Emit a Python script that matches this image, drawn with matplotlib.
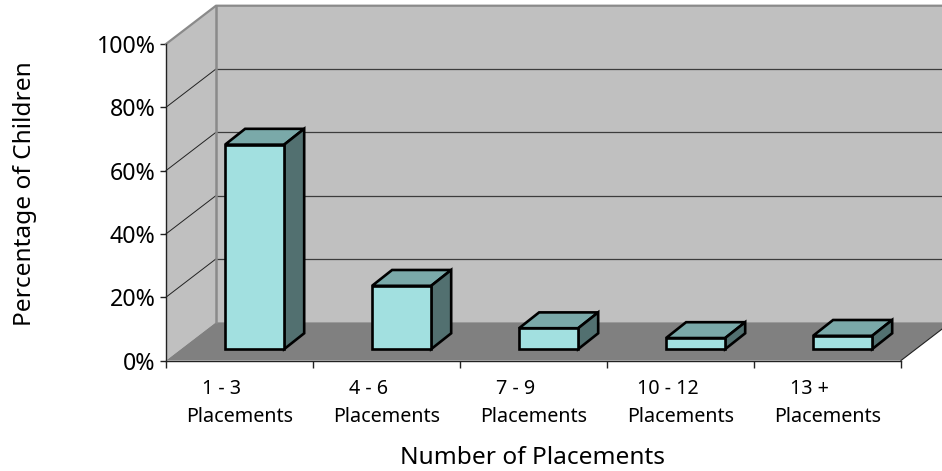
import matplotlib
matplotlib.use('Agg')
import matplotlib.pyplot as plt
from matplotlib.patches import Polygon

categories = ['1 - 3', '4 - 6', '7 - 9', '10 - 12', '13 +']
label_padding = ['       ', '       ', '       ', '     ', '       ']
percentages = [64.6, 20.0, 6.6, 3.5, 4.2]
y_ticks = [0, 20, 40, 60, 80, 100]

WALL = '#c0c0c0'
FLOOR = '#808080'
BAR_FRONT = '#a2e0e0'
BAR_TOP = '#7aa9a9'
BAR_SIDE = '#527070'

# depth of the 3d box, in data units
DEPTH_X = 0.34
DEPTH_Y = 12.1
# bar placement inside a category
BAR_LEFT = 0.402
BAR_WIDTH = 0.402
BAR_BASE = 3.6
BAR_DX = 0.136
BAR_DY = 5.0

W, H = 942, 471
plt.rcParams['font.family'] = 'Noto Sans'

fig = plt.figure(figsize=(W / 100, H / 100), dpi=100)
ax = fig.add_axes([166 / W, 1 - 360.5 / H, 735 / W, 316.5 / H])
ax.set_xlim(0, len(categories))
ax.set_ylim(0, 100)
ax.patch.set_visible(False)

n = len(categories)


def poly(points, face, edge='none', lw=0, z=1):
    ax.add_patch(Polygon(points, closed=True, facecolor=face, edgecolor=edge,
                         linewidth=lw, zorder=z, clip_on=False, joinstyle='miter'))


# walls and floor
poly([(0, 0), (DEPTH_X, DEPTH_Y), (DEPTH_X, 100 + DEPTH_Y), (0, 100)], WALL)
poly([(DEPTH_X, DEPTH_Y), (n + DEPTH_X, DEPTH_Y), (n + DEPTH_X, 100 + DEPTH_Y),
      (DEPTH_X, 100 + DEPTH_Y)], WALL)
poly([(0, 0), (n, 0), (n + DEPTH_X, DEPTH_Y), (DEPTH_X, DEPTH_Y)], FLOOR)

# gridlines on side and back wall
for t in y_ticks[1:-1]:
    ax.plot([0, DEPTH_X], [t, t + DEPTH_Y], color='#222222', lw=0.7, zorder=2, clip_on=False)
    ax.plot([DEPTH_X, n + DEPTH_X], [t + DEPTH_Y, t + DEPTH_Y], color='#3c3c3c', lw=0.9,
            zorder=2, clip_on=False)

# gray wall borders
ax.plot([0, DEPTH_X, n + DEPTH_X], [100, 100 + DEPTH_Y, 100 + DEPTH_Y], color='#8a8a8a',
        lw=1.6, zorder=3, clip_on=False)
ax.plot([DEPTH_X, DEPTH_X], [DEPTH_Y, 100 + DEPTH_Y], color='#8a8a8a', lw=1.8, zorder=3,
        clip_on=False)
ax.plot([n, n + DEPTH_X], [0, DEPTH_Y], color='#222222', lw=0.8, zorder=3, clip_on=False)

# 3d bars
for i, value in enumerate(percentages):
    x0 = i + BAR_LEFT
    x1 = x0 + BAR_WIDTH
    y0 = BAR_BASE
    y1 = BAR_BASE + value
    poly([(x0, y1), (x1, y1), (x1 + BAR_DX, y1 + BAR_DY), (x0 + BAR_DX, y1 + BAR_DY)],
         BAR_TOP, 'black', 1.9, 5)
    poly([(x1, y0), (x1 + BAR_DX, y0 + BAR_DY), (x1 + BAR_DX, y1 + BAR_DY), (x1, y1)],
         BAR_SIDE, 'black', 1.9, 5)
    poly([(x0, y0), (x1, y0), (x1, y1), (x0, y1)], BAR_FRONT, 'black', 1.9, 6)

# axes
for side in ['top', 'right']:
    ax.spines[side].set_visible(False)
for side in ['left', 'bottom']:
    ax.spines[side].set_color('#222222')
    ax.spines[side].set_linewidth(1.0)
    ax.spines[side].set_zorder(4)

ax.set_yticks(y_ticks)
ax.set_yticklabels(['{}%'.format(t) for t in y_ticks], fontsize=16.7)
ax.tick_params(axis='y', length=4, width=1.0, color='#222222', pad=3.5)

ax.set_xticks(range(n + 1))
ax.set_xticklabels([])
ax.tick_params(axis='x', which='major', length=5, width=1.0, color='#222222')
ax.set_xticks([i + 0.5 for i in range(n)], minor=True)
ax.set_xticklabels(['{}{}\nPlacements'.format(c, p) for c, p in zip(categories, label_padding)],
                   minor=True, fontsize=14.2, linespacing=1.52)
ax.tick_params(axis='x', which='minor', length=0, pad=13.5)

ax.set_xlabel('Number of Placements', fontsize=17.6)
ax.xaxis.set_label_coords((533 - 166) / 735, -(458 - 360.5) / 316.5)
ax.xaxis.label.set_verticalalignment('center')
ax.set_ylabel('Percentage of Children', fontsize=17.6)
ax.yaxis.set_label_coords((25 - 166) / 735, (360.5 - 194) / 316.5)
ax.yaxis.label.set_verticalalignment('center')

fig.savefig('out.png', dpi=100)
